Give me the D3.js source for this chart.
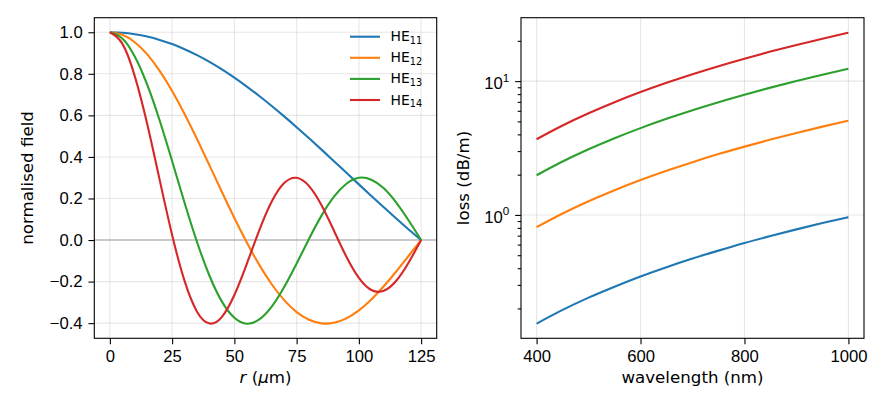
<!DOCTYPE html>
<html>
<head>
<meta charset="utf-8">
<script src="https://cdn.jsdelivr.net/npm/d3@7"></script>
<style>
  body { margin: 0; background: #fff; }
  svg { display: block; font-family: "DejaVu Sans", sans-serif; }
  .tick text { font-size: 16.67px; fill: #000; }
  .tick line { stroke: #000; stroke-width: 1.1; }
</style>
</head>
<body>
<svg width="888" height="408"></svg>
<script>
// radial position (um) and mode fields
const rUm = [0, 5, 10, 15, 20, 25, 30, 35, 40, 45, 50, 55, 60, 65, 70, 75, 80, 85, 90, 95, 100, 105, 110, 115, 120, 125];
const he11 = [1.000, 0.9977, 0.9908, 0.9793, 0.9633, 0.9430, 0.9184, 0.8898, 0.8573, 0.8212, 0.7815, 0.7387, 0.6932, 0.6453, 0.5952, 0.5432, 0.4897, 0.4351, 0.3797, 0.3238, 0.2679, 0.2123, 0.1574, 0.1035, 0.0508, 0.000];
const he12 = [1.000, 0.9879, 0.9518, 0.8933, 0.8140, 0.7177, 0.6069, 0.4861, 0.3595, 0.2313, 0.1060, -0.0122, -0.1194, -0.2127, -0.2893, -0.3467, -0.3839, -0.4010, -0.3983, -0.3772, -0.3388, -0.2862, -0.2227, -0.1515, -0.0757, 0.000];
const he13 = [1.000, 0.9703, 0.8836, 0.7476, 0.5751, 0.3801, 0.1798, -0.0093, -0.1719, -0.2964, -0.3740, -0.4026, -0.3822, -0.3205, -0.2262, -0.1129, 0.0062, 0.1174, 0.2085, 0.2708, 0.2996, 0.2903, 0.2490, 0.1804, 0.0941, 0.000];
const he14 = [1.000, 0.9452, 0.7891, 0.5586, 0.2895, 0.0245, -0.1968, -0.3447, -0.4017, -0.3696, -0.2644, -0.1142, 0.0468, 0.1851, 0.2745, 0.2994, 0.2594, 0.1672, 0.0446, -0.0807, -0.1825, -0.2406, -0.2444, -0.1959, -0.1077, 0.000];

// loss (dB/m) against wavelength (nm), right panel
const wavelengthNm = [400, 450, 500, 550, 600, 650, 700, 750, 800, 850, 900, 950, 1000];
const loss11 = [0.154, 0.195, 0.241, 0.291, 0.347, 0.407, 0.472, 0.541, 0.616, 0.695, 0.780, 0.869, 0.963];
const loss12 = [0.810, 1.025, 1.266, 1.531, 1.823, 2.139, 2.481, 2.848, 3.240, 3.658, 4.101, 4.569, 5.063];
const loss13 = [1.980, 2.506, 3.094, 3.743, 4.455, 5.228, 6.064, 6.961, 7.920, 8.941, 10.02, 11.17, 12.38];
const loss14 = [3.680, 4.658, 5.750, 6.957, 8.280, 9.717, 11.27, 12.94, 14.72, 16.62, 18.63, 20.76, 23.00];

const modeSubs = ["11", "12", "13", "14"];
const colors = ["#1f77b4", "#ff7f0e", "#2ca02c", "#d62728"];

const rTicks = [0, 25, 50, 75, 100, 125];
const fieldTicks = [-0.4, -0.2, 0.0, 0.2, 0.4, 0.6, 0.8, 1.0];
const wlTicks = [400, 600, 800, 1000];
const lossMajor = [1, 10];
const lossMajorExp = ["0", "1"];
const lossMinor = [0.2, 0.3, 0.4, 0.5, 0.6, 0.7, 0.8, 0.9, 2, 3, 4, 5, 6, 7, 8, 9, 20];

const svg = d3.select("svg");
const tickLen = 5.83, tickPad = 5.83;
const yTop = 17.7, yBot = 338.3;

// ---------- left panel ----------
const L = {x0: 94.3, x1: 436.7};
const xr = d3.scaleLinear().domain([-6.25, 131.25]).range([L.x0, L.x1]);
const yf = d3.scaleLinear().domain([-0.4729, 1.0701]).range([yBot, yTop]);

const gl = svg.append("g");

// grid
gl.append("g").selectAll("line").data(rTicks).join("line")
  .attr("x1", d => xr(d)).attr("x2", d => xr(d))
  .attr("y1", yTop).attr("y2", yBot)
  .attr("stroke", "#b0b0b0").attr("stroke-opacity", 0.3).attr("stroke-width", 1.1);
gl.append("g").selectAll("line").data(fieldTicks).join("line")
  .attr("x1", L.x0).attr("x2", L.x1)
  .attr("y1", d => yf(d)).attr("y2", d => yf(d))
  .attr("stroke", "#b0b0b0").attr("stroke-opacity", 0.3).attr("stroke-width", 1.1);

// zero line
gl.append("line")
  .attr("x1", L.x0).attr("x2", L.x1)
  .attr("y1", yf(0)).attr("y2", yf(0))
  .attr("stroke", "#a0a0a0").attr("stroke-width", 1.1);

const fieldLine = d3.line()
  .x((d, i) => xr(rUm[i]))
  .y(d => yf(d))
  .curve(d3.curveNatural);

[he11, he12, he13, he14].forEach((s, i) => {
  gl.append("path")
    .attr("d", fieldLine(s))
    .attr("fill", "none")
    .attr("stroke", colors[i])
    .attr("stroke-width", 2.1);
});

gl.append("g")
  .attr("transform", `translate(0,${yBot})`)
  .call(d3.axisBottom(xr).tickValues(rTicks).tickSize(tickLen).tickPadding(tickPad))
  .call(g => g.select(".domain").remove());
gl.append("g")
  .attr("transform", `translate(${L.x0},0)`)
  .call(d3.axisLeft(yf).tickValues(fieldTicks).tickSize(tickLen).tickPadding(tickPad).tickFormat(d3.format(".1f")))
  .call(g => g.select(".domain").remove());

gl.append("rect")
  .attr("x", L.x0).attr("y", yTop)
  .attr("width", L.x1 - L.x0).attr("height", yBot - yTop)
  .attr("fill", "none").attr("stroke", "#000").attr("stroke-width", 1.1);

// legend
const leg = gl.append("g");
modeSubs.forEach((m, i) => {
  const y = 36.7 + i * 21.1;
  leg.append("line")
    .attr("x1", 350).attr("x2", 380).attr("y1", y).attr("y2", y)
    .attr("stroke", colors[i]).attr("stroke-width", 2.1);
  const t = leg.append("text")
    .attr("x", 390.5).attr("y", y + 4.5)
    .attr("font-size", 13.9);
  t.append("tspan").text("HE");
  t.append("tspan").attr("font-size", 9.7).attr("dy", 2.8).text(m);
});

// axis labels
gl.append("text")
  .attr("transform", `translate(32.5,${(yTop + yBot) / 2}) rotate(-90)`)
  .attr("text-anchor", "middle")
  .attr("font-size", 16.67)
  .text("normalised field");
const xl = gl.append("text")
  .attr("x", (L.x0 + L.x1) / 2).attr("y", 383)
  .attr("text-anchor", "middle")
  .attr("font-size", 16.67);
xl.append("tspan").attr("font-style", "italic").text("r");
xl.append("tspan").text(" (");
xl.append("tspan").attr("font-style", "italic").text("\u03bc");
xl.append("tspan").text("m)");

// ---------- right panel ----------
const R = {x0: 521, x1: 864};
const xw = d3.scaleLinear().domain([370, 1030]).range([R.x0, R.x1]);
const yl = d3.scaleLog().domain([Math.pow(10, -0.922), Math.pow(10, 1.474)]).range([yBot, yTop]);

const gr = svg.append("g");

gr.append("g").selectAll("line").data(wlTicks).join("line")
  .attr("x1", d => xw(d)).attr("x2", d => xw(d))
  .attr("y1", yTop).attr("y2", yBot)
  .attr("stroke", "#b0b0b0").attr("stroke-opacity", 0.3).attr("stroke-width", 1.1);
gr.append("g").selectAll("line").data(lossMajor).join("line")
  .attr("x1", R.x0).attr("x2", R.x1)
  .attr("y1", d => yl(d)).attr("y2", d => yl(d))
  .attr("stroke", "#b0b0b0").attr("stroke-opacity", 0.3).attr("stroke-width", 1.1);

const lossLine = d3.line()
  .x((d, i) => xw(wavelengthNm[i]))
  .y(d => yl(d))
  .curve(d3.curveMonotoneX);

[loss11, loss12, loss13, loss14].forEach((s, i) => {
  gr.append("path")
    .attr("d", lossLine(s))
    .attr("fill", "none")
    .attr("stroke", colors[i])
    .attr("stroke-width", 2.1);
});

gr.append("g")
  .attr("transform", `translate(0,${yBot})`)
  .call(d3.axisBottom(xw).tickValues(wlTicks).tickSize(tickLen).tickPadding(tickPad).tickFormat(d3.format("d")))
  .call(g => g.select(".domain").remove());

gr.append("g")
  .attr("transform", `translate(${R.x0},0)`)
  .call(d3.axisLeft(yl).tickValues(lossMinor).tickSize(3.3).tickFormat(() => ""))
  .call(g => g.select(".domain").remove())
  .call(g => g.selectAll("line").attr("stroke-width", 0.9));

const yMaj = gr.append("g")
  .attr("transform", `translate(${R.x0},0)`)
  .call(d3.axisLeft(yl).tickValues(lossMajor).tickSize(tickLen).tickPadding(tickPad).tickFormat(() => ""))
  .call(g => g.select(".domain").remove());

yMaj.selectAll(".tick").each(function(d, i) {
  const t = d3.select(this).select("text").attr("dy", null).attr("y", 7.5).text(null);
  t.append("tspan").text("10");
  t.append("tspan").attr("font-size", 11.7).attr("dy", -7.5).text(lossMajorExp[i]);
});

gr.append("rect")
  .attr("x", R.x0).attr("y", yTop)
  .attr("width", R.x1 - R.x0).attr("height", yBot - yTop)
  .attr("fill", "none").attr("stroke", "#000").attr("stroke-width", 1.1);

gr.append("text")
  .attr("transform", `translate(468.5,${(yTop + yBot) / 2}) rotate(-90)`)
  .attr("text-anchor", "middle")
  .attr("font-size", 16.67)
  .text("loss (dB/m)");
gr.append("text")
  .attr("x", (R.x0 + R.x1) / 2).attr("y", 383)
  .attr("text-anchor", "middle")
  .attr("font-size", 16.67)
  .text("wavelength (nm)");
</script>
</body>
</html>
